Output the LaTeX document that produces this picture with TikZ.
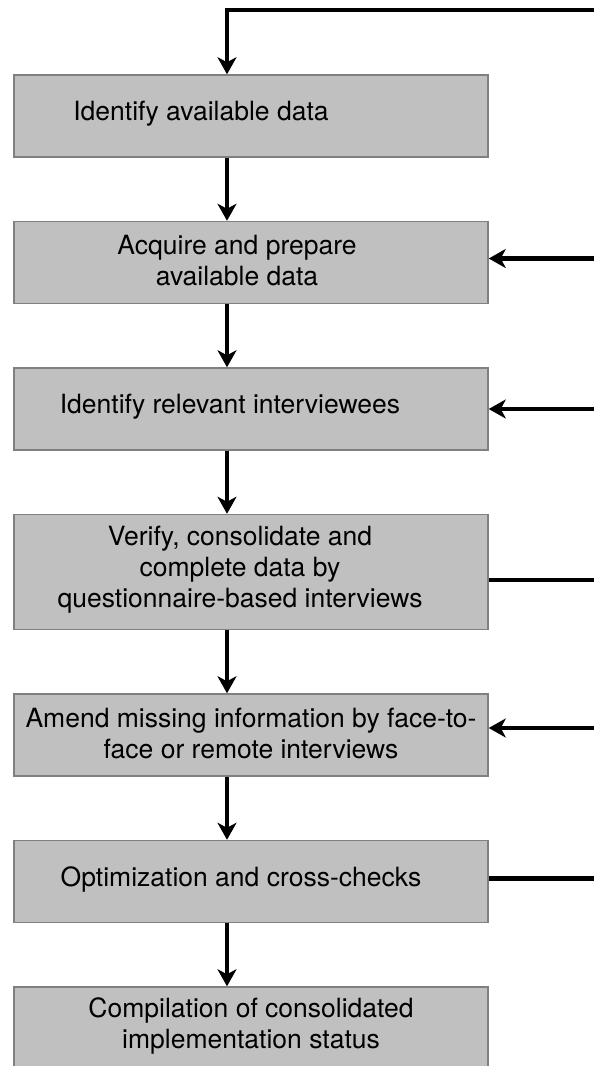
\documentclass[tikz,border=0pt]{standalone}
\usepackage{fontspec}
\setmainfont{TeX Gyre Heros}
\usepackage{xcolor}
\usetikzlibrary{arrows.meta, positioning}
\definecolor{boxfill}{HTML}{C0C0C0}
\definecolor{boxedge}{HTML}{808080}

\begin{document}
\begin{tikzpicture}[
    x=1pt, y=-1pt,
    node distance=63pt,
    stepbox/.style={rectangle, draw=boxedge, line width=1.5pt, fill=boxfill, minimum width=474pt, minimum height=82pt, inner sep=0pt},
    steptext/.style={align=center, font=\fontsize{26.5}{31}\selectfont, inner sep=0pt, yshift=2pt},
    arrow/.style={line width=4.5pt, ->, >={Stealth[length=17pt, width=19pt, inset=5pt]}},
    link/.style={line width=4.5pt}
]
    \useasboundingbox (0,0) rectangle (594,1066);
    \coordinate (spine) at (227,0);
    \coordinate (rim) at (594,10);

    % Steps
    \node (s1) [stepbox, label={[steptext, xshift=-50pt]center:Identify available data}] at (251,116) {};
    \node (s2) [stepbox, below=of s1, label={[steptext, xshift=-14pt]center:Acquire and prepare\\available data}] {};
    \node (s3) [stepbox, below=of s2, label={[steptext, xshift=-21pt]center:Identify relevant interviewees}] {};
    \node (s4) [stepbox, below=of s3, minimum height=115pt, label={[steptext, xshift=-11pt]center:Verify, consolidate and\\complete data by\\questionnaire-based interviews}] {};
    \node (s5) [stepbox, below=of s4, label={[steptext]center:Amend missing information by face-to-\\face or remote interviews}] {};
    \node (s6) [stepbox, below=of s5, label={[steptext, xshift=-10pt]center:Optimization and cross-checks}] {};
    \node (s7) [stepbox, below=of s6, label={[steptext]center:Compilation of consolidated\\implementation status}] {};

    % Main flow
    \draw [arrow] (rim) -| (spine |- s1.north);
    \draw [arrow] (spine |- s1.south) -- (spine |- s2.north);
    \draw [arrow] (spine |- s2.south) -- (spine |- s3.north);
    \draw [arrow] (spine |- s3.south) -- (spine |- s4.north);
    \draw [arrow] (spine |- s4.south) -- (spine |- s5.north);
    \draw [arrow] (spine |- s5.south) -- (spine |- s6.north);
    \draw [arrow] (spine |- s6.south) -- (spine |- s7.north);

    % Side connectors
    \draw [arrow] ([yshift=4pt]s2.east -| rim) -- ([yshift=4pt]s2.east);
    \draw [arrow] (s3.east -| rim) -- (s3.east);
    \draw [link] ([yshift=-8pt]s4.east) -- ([yshift=-8pt]s4.east -| rim);
    \draw [arrow] ([yshift=7pt]s5.east -| rim) -- ([yshift=7pt]s5.east);
    \draw [link] ([yshift=3pt]s6.east) -- ([yshift=3pt]s6.east -| rim);
\end{tikzpicture}
\end{document}
